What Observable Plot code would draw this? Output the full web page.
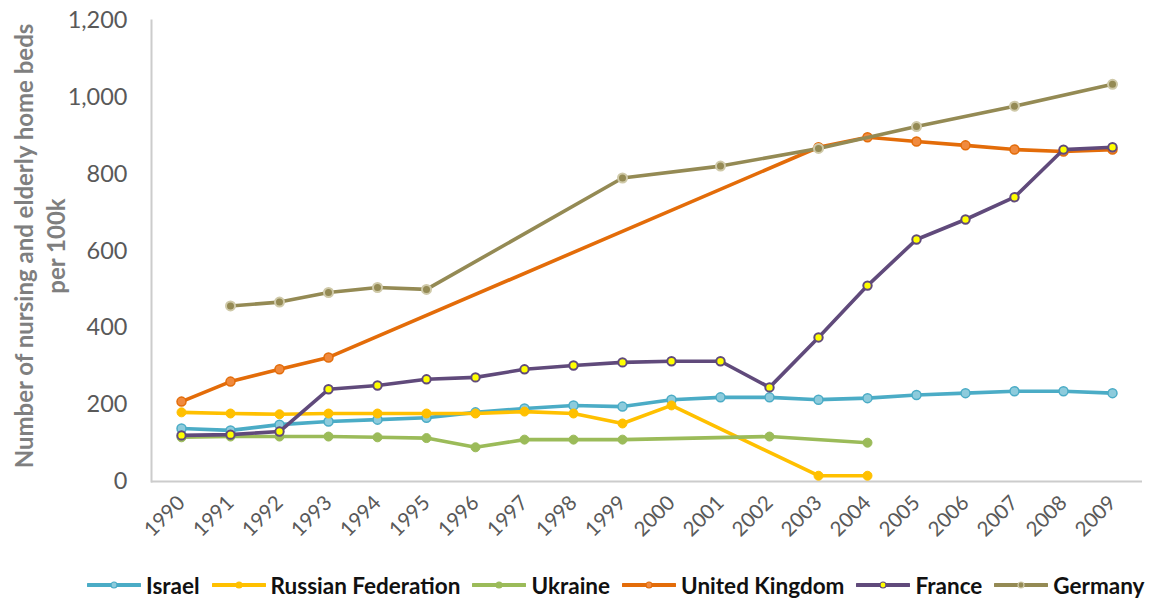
<!DOCTYPE html>
<html>
<head>
<meta charset="utf-8">
<script src="https://cdn.jsdelivr.net/npm/d3@7"></script>
<script src="https://cdn.jsdelivr.net/npm/@observablehq/plot@0.6"></script>
<style>
  html, body { margin: 0; padding: 0; background: #fff; }
  #wrap { width: 1161px; height: 602px; position: relative; overflow: hidden; }
  #legend { display: flex; align-items: center; height: 42px; padding-left: 87px; padding-top: 8px; box-sizing: border-box;
            font-family: Lato, "Liberation Sans", sans-serif; font-weight: bold; font-size: 22.5px; color: #111; white-space: nowrap; }
  .item { display: flex; align-items: center; margin-right: 12px; flex-shrink: 0; white-space: nowrap; }
  .item svg { margin-right: 5px; flex-shrink: 0; }
</style>
</head>
<body>
<div id="wrap"><div id="chart"></div><div id="legend"></div></div>
<script>
const years = [1990,1991,1992,1993,1994,1995,1996,1997,1998,1999,2000,2001,2002,2003,2004,2005,2006,2007,2008,2009];
const seriesNames = ["Israel","Russian Federation","Ukraine","United Kingdom","France","Germany"];
const israel  = [138,133,148,156,161,166,180,190,198,195,213,219,219,213,217,225,230,235,235,230];
const russia  = [180,177,175,177,177,177,177,182,177,151,198,null,null,15,15,null,null,null,null,null];
const ukraine = [115,117,117,117,115,113,89,109,109,109,null,null,117,null,101,null,null,null,null,null];
const uk      = [208,260,292,323,null,null,null,null,null,null,null,null,null,870,896,885,875,864,859,864];
const france  = [120,122,130,240,250,266,271,292,302,310,313,313,245,375,510,630,682,740,864,870];
const germany = [null,457,467,492,505,500,null,null,null,790,null,821,null,867,null,924,null,977,null,1034];
const yTicks = [0,200,400,600,800,1000,1200];
const yLabel = "Number of nursing and elderly home beds\nper 100k";

const seriesValues = [israel, russia, ukraine, uk, france, germany];
const styles = [
  {line:"#4bacc6", fill:"#8dcbdc", stroke:"#4bacc6", r:4.5, sw:1.5},
  {line:"#ffc000", fill:"#ffc000", stroke:"#ffc000", r:4.5, sw:1},
  {line:"#9bbb59", fill:"#9bbb59", stroke:"#9bbb59", r:4.5, sw:1},
  {line:"#e36c09", fill:"#f08a3e", stroke:"#e36c09", r:4.5, sw:1.5},
  {line:"#604a7b", fill:"#ffff00", stroke:"#604a7b", r:4.2, sw:2},
  {line:"#948a54", fill:"#948a54", stroke:"#cfc9a8", r:4.5, sw:2}
];

const marks = [
  Plot.ruleY([0], {stroke:"#cccccc", strokeWidth:2}),
  Plot.frame({anchor:"left", stroke:"#cccccc", strokeWidth:2}),
  Plot.axisY({ticks: yTicks, tickSize:0, tickPadding:24, tickFormat: d3.format(","), fontSize:23.5, fill:"#595959", fontFamily:"Lato"}),
  Plot.axisX({tickSize:0, tickRotate:-45, tickPadding:18, tickFormat: d => String(d), fontSize:20.5, fill:"#595959", fontFamily:"Lato"}),
  Plot.text([yLabel], {frameAnchor:"left", rotate:-90, dx:-113, dy:-5, text: d => d, fontSize:24, fontWeight:"bold", fill:"#7f7f7f", fontFamily:"Lato", lineHeight:1.35, textAnchor:"middle", lineAnchor:"middle"})
];

seriesNames.forEach((name, i) => {
  const data = years.map((y, j) => ({year: y, value: seriesValues[i][j], series: name})).filter(d => d.value != null);
  const s = styles[i];
  marks.push(Plot.line(data, {x:"year", y:"value", stroke: s.line, strokeWidth: 3.6, strokeLinejoin:"round"}));
  marks.push(Plot.dot(data, {x:"year", y:"value", r: s.r, fill: s.fill, stroke: s.stroke, strokeWidth: s.sw}));
});

const chart = Plot.plot({
  width: 1161,
  height: 560,
  marginLeft: 151,
  marginRight: 19,
  marginTop: 20,
  marginBottom: 79,
  style: {fontFamily: "Lato, sans-serif", background: "#fff"},
  x: {type: "point", domain: years, padding: 0.5, label: null, axis: null},
  y: {domain: [0, 1200], label: null, axis: null},
  marks
});
document.getElementById("chart").appendChild(chart);

const legend = document.getElementById("legend");
seriesNames.forEach((name, i) => {
  const s = styles[i];
  const item = document.createElement("div");
  item.className = "item";
  item.innerHTML = `<svg width="54" height="12"><line x1="1" x2="53" y1="6" y2="6" stroke="${s.line}" stroke-width="4" stroke-linecap="round"/><circle cx="27" cy="6" r="3" fill="${s.fill}" stroke="${s.stroke}" stroke-width="1.2"/></svg><span>${name}</span>`;
  legend.appendChild(item);
});
</script>
</body>
</html>
